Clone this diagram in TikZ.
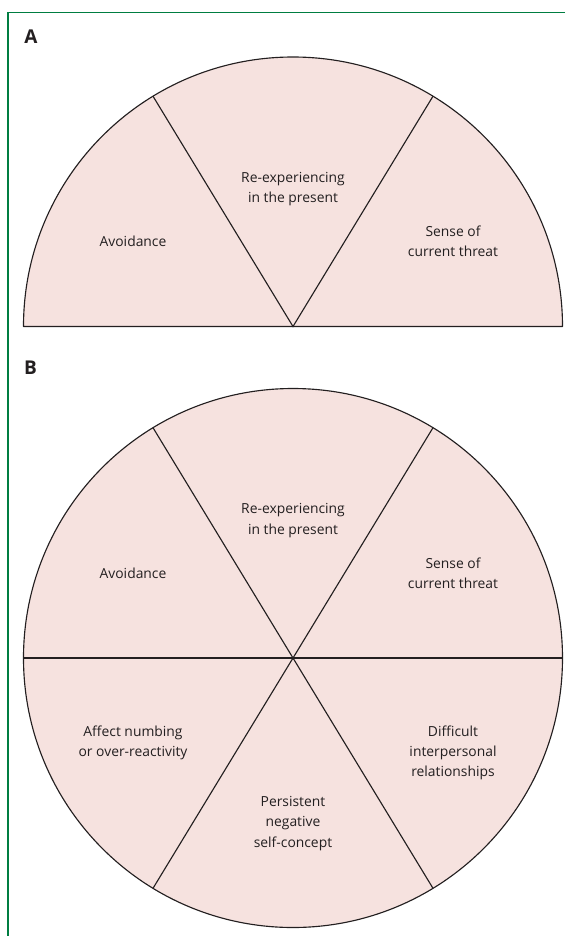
\documentclass[tikz,border=0pt]{standalone}
\usepackage{fontspec}
\setmainfont{Open Sans}
\definecolor{framegreen}{RGB}{0,125,65}
\definecolor{sectorfill}{RGB}{246,226,223}
\definecolor{sectorline}{RGB}{35,31,32}
\tikzset{
  sector/.style={fill=sectorfill, draw=sectorline, line width=0.85pt, line join=round},
  divider/.style={draw=sectorline, line width=0.85pt},
  lbl/.style={align=center, inner sep=0pt, font=\fontsize{10.4}{15.2}\selectfont, text=sectorline},
  panel/.style={inner sep=0pt, font=\fontsize{14.25}{16}\selectfont\bfseries, text=sectorline},
  frame/.style={draw=framegreen, line width=0.8pt}
}
\begin{document}
\begin{tikzpicture}[x=0.75pt, y=-0.75pt]
\useasboundingbox (0,0) rectangle (565,936);
% frame
\draw[frame] (565,12.3) -- (8,12.3) -- (8,936);
% Panel A
\node[panel] (la) at (31,36.3) {A};
\coordinate (ca) at (293,326.5);
\coordinate (a1) at (153,96.2);
\coordinate (a2) at (433,96.2);
\draw[sector] (23.5,326.5) arc[start angle=180, end angle=360, radius=269.5] -- cycle;
\draw[divider] (a1) -- (ca) -- (a2);
\node[lbl] (a-re) at (293,189) {Re-experiencing\\in the present};
\node[lbl] (a-av) at (133,241.5) {Avoidance};
\node[lbl] (a-th) at (453,241.5) {Sense of\\current threat};
% Panel B
\node[panel] (lb) at (30.5,367.8) {B};
\coordinate (cb) at (293,658);
\coordinate (b1) at (153,427.7);
\coordinate (b2) at (433,427.7);
\coordinate (b3) at (153,888.3);
\coordinate (b4) at (433,888.3);
\coordinate (b5) at (23.5,658);
\coordinate (b6) at (562.5,658);
\draw[sector] (cb) circle[radius=269.5];
\draw[divider] (b1) -- (b4);
\draw[divider] (b2) -- (b3);
\draw[divider] (b5) -- (b6);
\node[lbl] (b-re) at (293,520.5) {Re-experiencing\\in the present};
\node[lbl] (b-av) at (133,573) {Avoidance};
\node[lbl] (b-th) at (453,573) {Sense of\\current threat};
\node[lbl] (b-af) at (133,743) {Affect numbing\\or over-reactivity};
\node[lbl] (b-di) at (453,753) {Difficult\\interpersonal\\relationships};
\node[lbl] (b-pe) at (293,823.5) {Persistent\\negative\\self-concept};
\end{tikzpicture}
\end{document}
